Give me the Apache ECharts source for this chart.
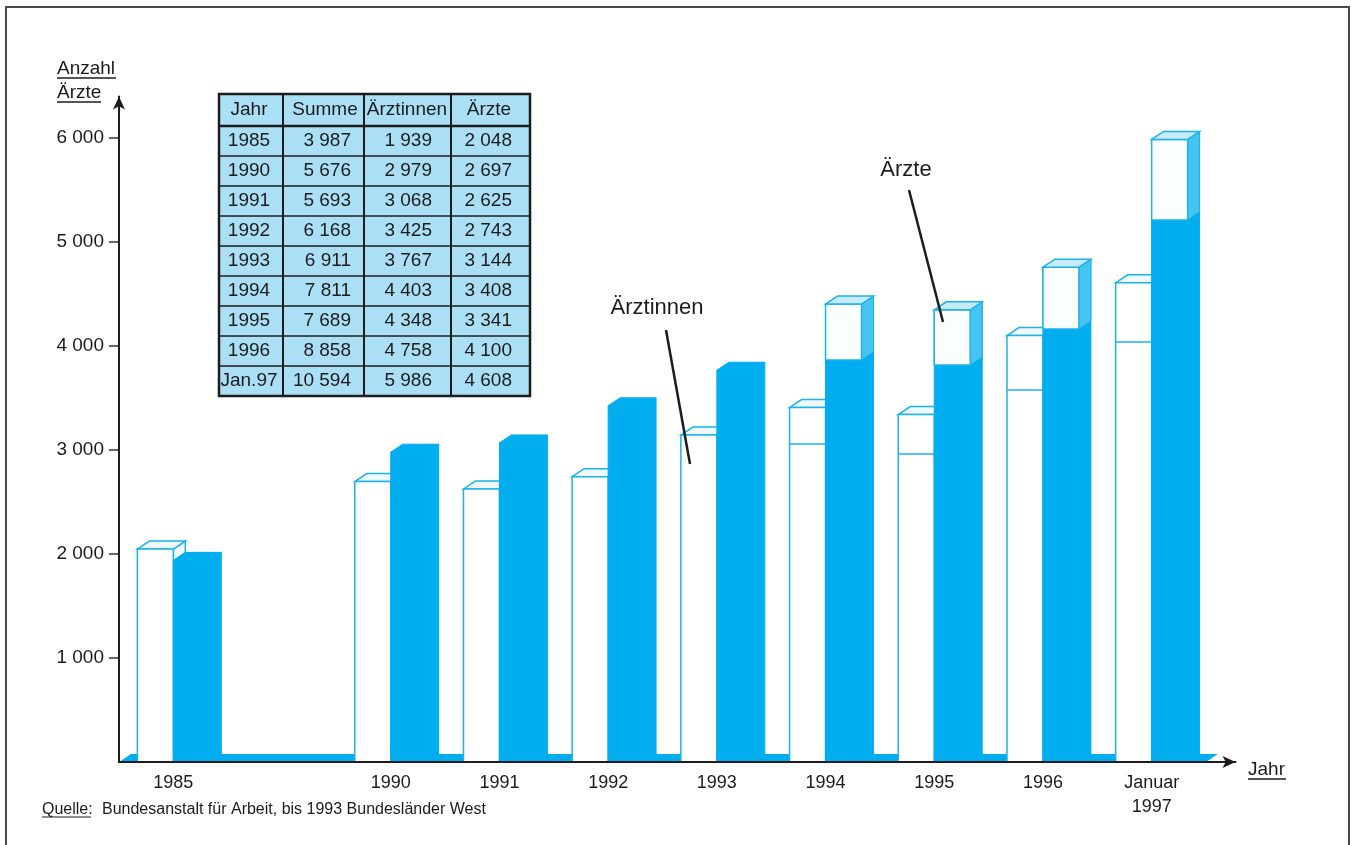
<!DOCTYPE html>
<html><head><meta charset="utf-8">
<script src="https://cdn.jsdelivr.net/npm/echarts@6/dist/echarts.min.js"></script>
<style>html,body{margin:0;padding:0;background:#fff}#c{width:1351px;height:845px}</style>
</head><body><div id="c"></div>
<script>
// ---- data ----
const categories = ['1985', '', '1990', '1991', '1992', '1993', '1994', '1995', '1996', 'Januar\n1997'];
const tableYears = ['1985', '1990', '1991', '1992', '1993', '1994', '1995', '1996', 'Jan.97'];
const barSlots = [0, 2, 3, 4, 5, 6, 7, 8, 9];
const summe = [3987, 5676, 5693, 6168, 6911, 7811, 7689, 8858, 10594];
const aerztinnen = [1939, 2979, 3068, 3425, 3767, 4403, 4348, 4758, 5986];
const aerzte = [2048, 2697, 2625, 2743, 3144, 3408, 3341, 4100, 4608];
const aerzteInner = [null, null, null, null, null, 3058, 2962, 3577, 4038];
const aerztinnenInner = [null, null, null, null, null, 3865, 3817, 4163, 5212];
const yTicks = [1000, 2000, 3000, 4000, 5000, 6000];
const tableHeader = ['Jahr', 'Summe', 'Ärztinnen', 'Ärzte'];

// ---- styles ----
const FONT = '"Liberation Sans", Arial, Helvetica, sans-serif';
const BLUE = '#00aeef';
const EDGE = '#1db2ec';
const INK = '#1c1c1c';
const fmt = v => String(v).replace(/\B(?=(\d{3})+(?!\d))/g, ' ');

const barData = barSlots.map((s, i) => [s, aerzte[i], aerztinnen[i],
  aerzteInner[i] == null ? '-' : aerzteInner[i],
  aerztinnenInner[i] == null ? '-' : aerztinnenInner[i]]);

function renderBars(params, api) {
  const slot = api.value(0);
  const m = api.value(1), f = api.value(2), mi = api.value(3), fi = api.value(4);
  const p0 = api.coord([slot, 0]);
  const c = p0[0], y0 = p0[1];
  const band = api.size([1, 0])[0];
  const w = band * 0.331, dx = band * 0.11, dy = 8;
  const ym = api.coord([slot, m])[1];
  const yf = api.coord([slot, f])[1];
  const ch = [];
  const solid = { fill: BLUE, stroke: BLUE, lineWidth: 1 };
  // white box (Ärzte)
  ch.push({ type: 'polygon', shape: { points: [[c, ym], [c + dx, ym - dy], [c + dx, y0 - dy], [c, y0]] }, style: { fill: '#f2fbfe', stroke: EDGE, lineWidth: 1.5 } });
  ch.push({ type: 'polygon', shape: { points: [[c - w, ym], [c - w + dx, ym - dy], [c + dx, ym - dy], [c, ym]] }, style: { fill: '#eef9fe', stroke: EDGE, lineWidth: 1.5 } });
  ch.push({ type: 'rect', shape: { x: c - w, y: ym, width: w, height: y0 - ym }, style: { fill: '#ffffff', stroke: EDGE, lineWidth: 1.5 } });
  if (!isNaN(mi)) {
    const yi = api.coord([slot, mi])[1];
    ch.push({ type: 'line', shape: { x1: c - w, y1: yi, x2: c, y2: yi }, style: { stroke: EDGE, lineWidth: 1.5 } });
  }
  // blue box (Ärztinnen)
  ch.push({ type: 'polygon', shape: { points: [[c + w, yf], [c + w + dx, yf - dy], [c + w + dx, y0 - dy], [c + w, y0]] }, style: solid });
  ch.push({ type: 'rect', shape: { x: c, y: yf, width: w, height: y0 - yf }, style: solid });
  if (!isNaN(fi)) {
    const yi = api.coord([slot, fi])[1];
    ch.push({ type: 'polygon', shape: { points: [[c + w, yf], [c + w + dx, yf - dy], [c + w + dx, yi - dy], [c + w, yi]] }, style: { fill: '#45c4f2', stroke: EDGE, lineWidth: 1 } });
    ch.push({ type: 'rect', shape: { x: c, y: yf, width: w, height: yi - yf }, style: { fill: '#fbfeff', stroke: EDGE, lineWidth: 1.5 } });
    ch.push({ type: 'polygon', shape: { points: [[c, yf], [c + dx, yf - dy], [c + w + dx, yf - dy], [c + w, yf]] }, style: { fill: '#c6ebfb', stroke: EDGE, lineWidth: 1.5 } });
  } else {
    ch.push({ type: 'polygon', shape: { points: [[c, yf], [c + dx, yf - dy], [c + w + dx, yf - dy], [c + w, yf]] }, style: solid });
  }
  return { type: 'group', children: ch };
}

function renderFloor(params, api) {
  const cs = params.coordSys;
  const band = api.size([1, 0])[0];
  const dx = band * 0.11, dy = 8;
  const x0 = cs.x, x1 = cs.x + cs.width, y0 = cs.y + cs.height;
  return { type: 'polygon', shape: { points: [[x0, y0], [x0 + dx, y0 - dy], [x1 + dx, y0 - dy], [x1, y0]] }, style: { fill: BLUE } };
}

// ---- table (graphic) ----
const tX = [219, 283, 364, 451, 530];
const tTop = 94, tHead = 32, tRow = 30;
const tBottom = tTop + tHead + tRow * tableYears.length;
const tableChildren = [];
tableChildren.push({ type: 'rect', shape: { x: tX[0], y: tTop, width: tX[4] - tX[0], height: tBottom - tTop }, style: { fill: '#aadff6', stroke: INK, lineWidth: 2.5 } });
for (let k = 1; k < 4; k++) tableChildren.push({ type: 'line', shape: { x1: tX[k], y1: tTop, x2: tX[k], y2: tBottom }, style: { stroke: INK, lineWidth: 2 } });
for (let r = 0; r < tableYears.length; r++) {
  const y = tTop + tHead + r * tRow;
  tableChildren.push({ type: 'line', shape: { x1: tX[0], y1: y, x2: tX[4], y2: y }, style: { stroke: INK, lineWidth: r === 0 ? 2.5 : 1.5 } });
}
const headCx = [249, 325, 407, 489];
tableHeader.forEach((h, k) => tableChildren.push({ type: 'text', style: { text: h, x: headCx[k], y: tTop + tHead / 2, textAlign: 'center', textVerticalAlign: 'middle', font: '19px ' + FONT, fill: INK } }));
const colRight = [null, 351, 432, 512];
const cols = [tableYears, summe, aerztinnen, aerzte];
cols.forEach((col, k) => col.forEach((v, r) => {
  const y = tTop + tHead + r * tRow + tRow / 2;
  tableChildren.push({ type: 'text', style: { text: k === 0 ? v : fmt(v), x: k === 0 ? 249 : colRight[k], y: y, textAlign: k === 0 ? 'center' : 'right', textVerticalAlign: 'middle', font: '19px ' + FONT, fill: INK } });
}));

const txt = (t, x, y, size, align) => ({ type: 'text', z: 100, style: { text: t, x: x, y: y, textAlign: align || 'left', textVerticalAlign: 'middle', font: size + 'px ' + FONT, fill: INK } });
const ln = (x1, y1, x2, y2, lw) => ({ type: 'line', z: 100, shape: { x1, y1, x2, y2 }, style: { stroke: INK, lineWidth: lw } });

const chart = echarts.init(document.getElementById('c'), null, { renderer: 'canvas' });
chart.setOption({
  animation: false,
  backgroundColor: '#ffffff',
  textStyle: { fontFamily: FONT },
  grid: [
    { left: 119, top: 96.4, height: 665.6, width: 1087 },
    { left: 119, top: 96.4, height: 665.6, width: 1116.5 }
  ],
  xAxis: [
    {
      type: 'category', gridIndex: 0, data: categories, boundaryGap: true,
      axisLine: { show: false }, axisTick: { show: false },
      axisLabel: { interval: 0, fontSize: 18, color: INK, margin: 9, lineHeight: 24, fontFamily: FONT }
    },
    {
      type: 'value', gridIndex: 1, min: 0, max: 1, z: 10,
      axisLine: { show: true, symbol: ['none', 'arrow'], symbolSize: [9, 13], lineStyle: { color: INK, width: 2 } },
      axisTick: { show: false }, axisLabel: { show: false }, splitLine: { show: false }
    }
  ],
  yAxis: [
    {
      type: 'value', gridIndex: 0, min: 0, max: 6400, interval: 1000, z: 10,
      axisLine: { show: true, symbol: ['none', 'arrow'], symbolSize: [9, 13], lineStyle: { color: INK, width: 2 } },
      axisTick: { show: true, length: 10, customValues: yTicks, lineStyle: { color: '#333', width: 1.5 } },
      axisLabel: { customValues: yTicks, formatter: fmt, fontSize: 19, color: INK, margin: 15, fontFamily: FONT },
      splitLine: { show: false }
    },
    { type: 'value', gridIndex: 1, min: 0, max: 1, show: false }
  ],
  series: [
    { type: 'custom', xAxisIndex: 0, yAxisIndex: 0, data: [[0]], renderItem: renderFloor, z: 1, silent: true },
    { type: 'custom', name: 'Ärzte / Ärztinnen', xAxisIndex: 0, yAxisIndex: 0, data: barData, encode: { x: 0, y: [1, 2] }, renderItem: renderBars, z: 2, silent: true }
  ],
  graphic: [
    { type: 'rect', z: -1, shape: { x: 6, y: 7, width: 1343, height: 870 }, style: { fill: 'transparent', stroke: '#4a4a4a', lineWidth: 2 } },
    { type: 'group', z: 50, children: tableChildren },
    txt('Anzahl', 57, 69, 19), ln(57, 78, 116, 78, 1.3),
    txt('Ärzte', 57, 93, 19), ln(57, 102, 101, 102, 1.3),
    txt('Jahr', 1248, 770, 19), ln(1248, 779, 1286, 779, 1.3),
    txt('Quelle:', 42, 810, 16), ln(42, 817, 91, 817, 1.2),
    txt('Bundesanstalt für Arbeit, bis 1993 Bundesländer West', 102, 810, 16),
    txt('Ärztinnen', 657, 308, 22, 'center'), ln(666, 330, 690, 464, 2.5),
    txt('Ärzte', 906, 170, 22, 'center'), ln(909, 190, 943, 322, 2.5)
  ]
});
</script>
</body></html>
